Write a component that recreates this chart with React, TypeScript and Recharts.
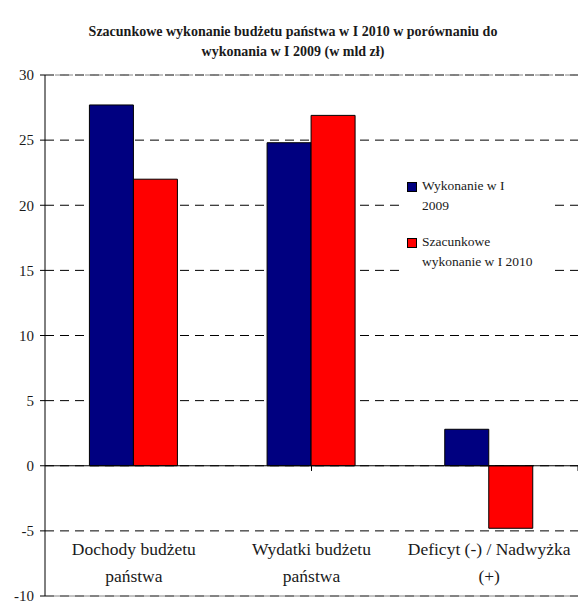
import React from "react";
import {
  Bar,
  BarChart,
  CartesianGrid,
  Customized,
  Legend,
  ReferenceLine,
  XAxis,
  YAxis,
} from "recharts";

const CATEGORIES = ["Dochody budżetu państwa", "Wydatki budżetu państwa", "Deficyt (-) / Nadwyżka (+)"];
const CATEGORY_LINES = [
  ["Dochody budżetu", "państwa"],
  ["Wydatki budżetu", "państwa"],
  ["Deficyt (-) / Nadwyżka", "(+)"],
];
const WYKONANIE_2009 = [27.7, 24.8, 2.8];
const SZACUNEK_2010 = [22.0, 26.9, -4.8];
const Y_TICKS = [-10, -5, 0, 5, 10, 15, 20, 25, 30];
const BOUNDARY_TICKS = [1, 2];

const TITLE_LINES = [
  "Szacunkowe wykonanie budżetu państwa w I 2010 w porównaniu do",
  "wykonania w I 2009 (w mld zł)",
];

const SERIES = [
  { key: "w2009", label: "Wykonanie w I 2009", color: "#000080" },
  { key: "s2010", label: "Szacunkowe wykonanie w I 2010", color: "#ff0000" },
];

const FONT = "Liberation Serif, DejaVu Serif";
const TEXT = "#1a1a1a";

const data = CATEGORIES.map((name, i) => ({
  name,
  index: i,
  w2009: WYKONANIE_2009[i],
  s2010: SZACUNEK_2010[i],
}));

function CategoryTick(props: any) {
  const { x, y, payload } = props;
  const lines = CATEGORY_LINES[payload.index] ?? [payload.value];
  return (
    <g>
      {lines.map((line: string, i: number) => (
        <text
          key={i}
          x={x}
          y={y - 49 + i * 27}
          textAnchor="middle"
          fill={TEXT}
          fontSize={17.5}
          style={{ fontFamily: FONT }}
        >
          {line}
        </text>
      ))}
    </g>
  );
}

function Title() {
  return (
    <g>
      {TITLE_LINES.map((line, i) => (
        <text
          key={i}
          x={293}
          y={36 + i * 20}
          textAnchor="middle"
          fill={TEXT}
          fontSize={14}
          fontWeight={700}
          style={{ fontFamily: FONT }}
        >
          {line}
        </text>
      ))}
    </g>
  );
}

function LegendBox() {
  return (
    <div style={{ fontFamily: FONT, fontSize: 13.5, color: TEXT, lineHeight: "20px", background: "#fff", padding: "8px 0 8px 6px" }}>
      {SERIES.map((s, i) => (
        <div key={s.key} style={{ display: "flex", alignItems: "flex-start", marginTop: i === 0 ? 0 : 16 }}>
          <span
            style={{
              display: "inline-block",
              width: 8,
              height: 8,
              background: s.color,
              border: "1px solid #000",
              marginTop: 6,
              marginRight: 5,
              flex: "none",
            }}
          />
          <span style={{ width: 112 }}>{s.label}</span>
        </div>
      ))}
    </div>
  );
}

export default function App() {
  return (
    <div style={{ position: "absolute", left: 0, top: 0, background: "#fff" }}>
      <BarChart
        width={578}
        height={601}
        data={data}
        margin={{ top: 75, right: 0, bottom: -2, left: 0 }}
        barCategoryGap="25%"
        barGap={0}
        style={{ fontFamily: FONT }}
      >
        <CartesianGrid horizontal vertical={false} stroke="#000" strokeDasharray="9 6" />
        <XAxis
          dataKey="name"
          axisLine={false}
          tickLine={false}
          height={7}
          interval={0}
          tick={<CategoryTick />}
        />
        <XAxis xAxisId="pos" type="number" domain={[0, 3]} ticks={BOUNDARY_TICKS} hide />
        <YAxis
          width={45}
          domain={[-10, 30]}
          ticks={Y_TICKS}
          interval={0}
          axisLine={{ stroke: "#000" }}
          tickLine={{ stroke: "#000" }}
          tickSize={5}
          tickMargin={6}
          tick={{ fill: TEXT, fontSize: 15, style: { fontFamily: FONT } }}
        />
        <ReferenceLine y={30} stroke="#888" strokeDasharray="8 2" />
        <ReferenceLine y={-10} stroke="#888" />
        {SERIES.map((s) => (
          <Bar
            key={s.key}
            dataKey={s.key}
            fill={s.color}
            stroke="#000"
            strokeWidth={1}
            isAnimationActive={false}
          />
        ))}
        <ReferenceLine y={0} stroke="#000" strokeWidth={1.2} />
        {BOUNDARY_TICKS.map((b) => (
          <ReferenceLine
            key={b}
            xAxisId="pos"
            segment={[
              { x: b, y: 0 },
              { x: b, y: -0.4 },
            ]}
            stroke="#000"
          />
        ))}
        <Legend
          layout="vertical"
          align="center"
          verticalAlign="middle"
          wrapperStyle={{ left: 401, top: 168, width: 152 }}
          content={<LegendBox />}
        />
        <Customized component={<Title />} />
      </BarChart>
    </div>
  );
}
